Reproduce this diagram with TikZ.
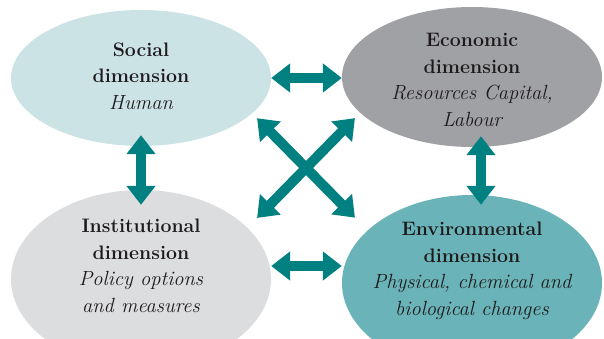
\documentclass[tikz,border=0pt]{standalone}
\usepackage{fontspec}
\usepackage{tikz}
\usetikzlibrary{shapes.geometric,arrows.meta}
\definecolor{arrowteal}{RGB}{0,128,128}
\definecolor{socialfill}{RGB}{204,227,230}
\definecolor{econfill}{RGB}{160,161,164}
\definecolor{instfill}{RGB}{220,221,223}
\definecolor{envfill}{RGB}{106,179,184}
\definecolor{inkgray}{RGB}{30,26,27}
\newcommand{\dimnote}[1]{{\fontsize{20.5}{26.5}\selectfont\itshape #1}}

\begin{document}
\begin{tikzpicture}[x=1pt,y=1pt,
                      dimension/.style={ellipse,inner sep=0pt,minimum width=260pt},
                      dimtext/.style={align=center,text=inkgray,font=\fontsize{19.5}{26.5}\selectfont},
                      link/.style={draw=arrowteal,line width=10pt,{Triangle[length=19pt,width=28pt]}-{Triangle[length=19pt,width=28pt]}}]
                      \useasboundingbox (0,0) rectangle (604,338);
                      \clip (0,0) rectangle (604,338);
                      \node[dimension,fill=socialfill,minimum height=136pt](soc)at(141,260){};
                      \node[dimension,fill=econfill,minimum height=140pt](eco)at(472,261){};
                      \node[dimension,fill=instfill,minimum height=178pt](inst)at(141,59){};
                      \node[dimension,fill=envfill,minimum height=176pt](env)at(472,55){};
                      \node[dimtext](soctext)at([yshift=2pt]soc){\textbf{Social}\\\textbf{dimension}\\\dimnote{Human}};
                      \node[dimtext](ecotext)at([yshift=-3pt]eco){\textbf{Economic}\\\textbf{dimension}\\\dimnote{Resources Capital,}\\\dimnote{Labour}};
                      \node[dimtext](insttext)at([yshift=13pt]inst){\textbf{Institutional}\\\textbf{dimension}\\\dimnote{Policy options}\\\dimnote{and measures}};
                      \node[dimtext](envtext)at([yshift=12pt]env){\textbf{Environmental}\\\textbf{dimension}\\\dimnote{Physical, chemical and}\\\dimnote{biological changes}};
                      \draw[link](soc.east)--(soc.east-|eco.west);
                      \draw[link]([yshift=13pt]inst.east)--([yshift=17pt]env.west);
                      \draw[link]([yshift=11pt]soc.south)--([yshift=-15pt]inst.north);
                      \draw[link]([shift={(9pt,11pt)}]eco.south)--([shift={(9pt,-10pt)}]env.north);
                      \draw[link]([shift={(24pt,8pt)}]soc.south east)--([shift={(-25pt,3pt)}]env.north west);
                      \draw[link]([shift={(-25pt,8.5pt)}]eco.south west)--([shift={(24pt,-2pt)}]inst.north east);
                  \end{tikzpicture}
\end{document}
